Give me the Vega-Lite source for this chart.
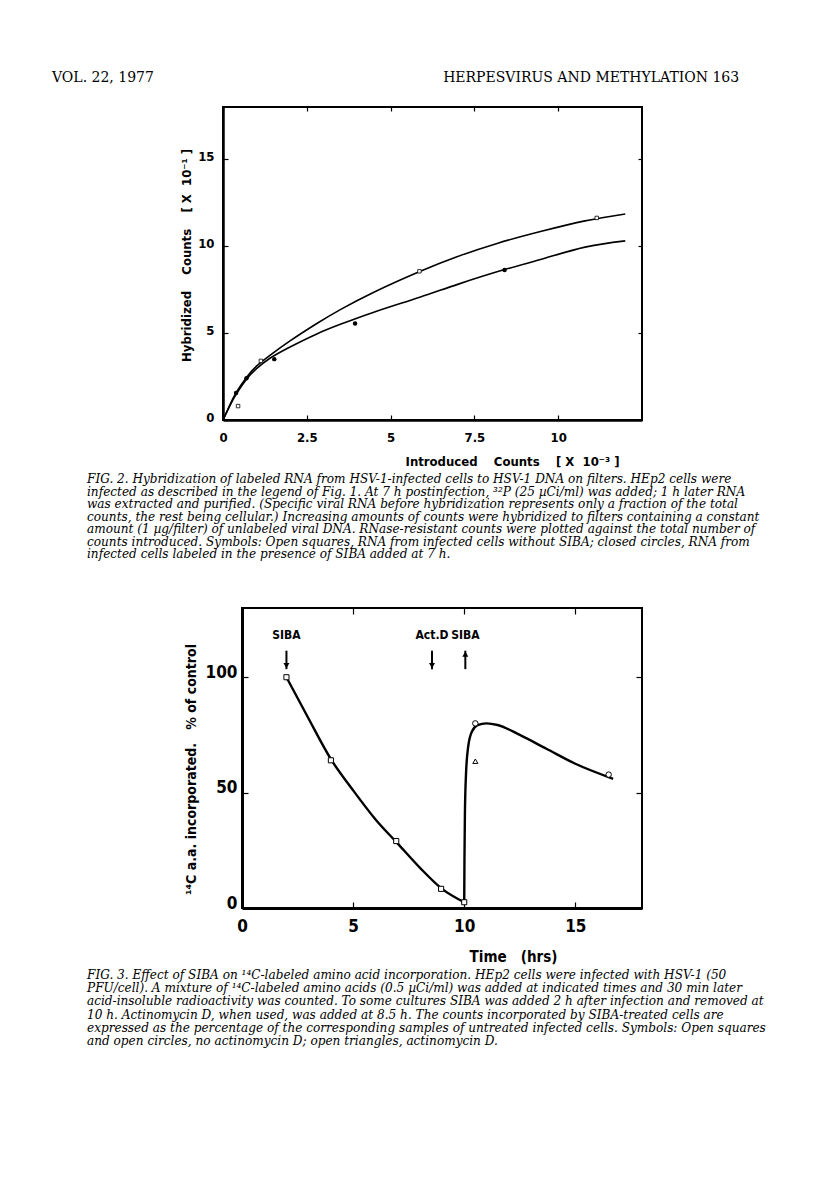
{
  "$schema": "https://vega.github.io/schema/vega-lite/v6.json",
  "background": "white",
  "padding": {"left": 52, "top": 71, "right": 5, "bottom": 5},
  "spacing": 44,
  "title": {
    "text": "VOL. 22, 1977\u00a0\u00a0\u00a0\u00a0\u00a0\u00a0\u00a0\u00a0\u00a0\u00a0\u00a0\u00a0\u00a0\u00a0\u00a0\u00a0\u00a0\u00a0\u00a0\u00a0\u00a0\u00a0\u00a0\u00a0\u00a0\u00a0\u00a0\u00a0\u00a0\u00a0\u00a0\u00a0\u00a0\u00a0\u00a0\u00a0\u00a0\u00a0\u00a0\u00a0\u00a0\u00a0\u00a0\u00a0\u00a0\u00a0\u00a0\u00a0\u00a0\u00a0\u00a0\u00a0\u00a0\u00a0\u00a0\u00a0\u00a0\u00a0\u00a0\u00a0\u00a0\u00a0\u00a0\u00a0\u00a0HERPESVIRUS AND METHYLATION\u00a0163",
    "anchor": "start",
    "dx": -34,
    "offset": 20,
    "font": "DejaVu Serif",
    "fontSize": 14,
    "fontWeight": "normal",
    "color": "black"
  },
  "datasets": {
    "fig2curves": [
      {"series": "open squares", "x": 0, "y": 0},
      {"series": "open squares", "x": 0.2, "y": 0.85},
      {"series": "open squares", "x": 0.4, "y": 1.6},
      {"series": "open squares", "x": 0.7, "y": 2.45},
      {"series": "open squares", "x": 1.0, "y": 3.1},
      {"series": "open squares", "x": 1.4, "y": 3.72},
      {"series": "open squares", "x": 2.0, "y": 4.55},
      {"series": "open squares", "x": 2.8, "y": 5.55},
      {"series": "open squares", "x": 3.5, "y": 6.35},
      {"series": "open squares", "x": 4.5, "y": 7.35},
      {"series": "open squares", "x": 5.87, "y": 8.54},
      {"series": "open squares", "x": 7.0, "y": 9.4},
      {"series": "open squares", "x": 8.2, "y": 10.17},
      {"series": "open squares", "x": 9.5, "y": 10.85},
      {"series": "open squares", "x": 10.8, "y": 11.45},
      {"series": "open squares", "x": 12.0, "y": 11.85},
      {"series": "closed circles", "x": 0, "y": 0},
      {"series": "closed circles", "x": 0.2, "y": 0.8},
      {"series": "closed circles", "x": 0.4, "y": 1.5},
      {"series": "closed circles", "x": 0.7, "y": 2.35},
      {"series": "closed circles", "x": 1.0, "y": 2.95},
      {"series": "closed circles", "x": 1.4, "y": 3.55},
      {"series": "closed circles", "x": 2.0, "y": 4.2},
      {"series": "closed circles", "x": 2.8, "y": 4.95},
      {"series": "closed circles", "x": 3.5, "y": 5.5},
      {"series": "closed circles", "x": 4.5, "y": 6.2},
      {"series": "closed circles", "x": 5.87, "y": 7.06},
      {"series": "closed circles", "x": 7.0, "y": 7.8},
      {"series": "closed circles", "x": 8.4, "y": 8.65},
      {"series": "closed circles", "x": 9.6, "y": 9.3},
      {"series": "closed circles", "x": 10.8, "y": 9.94},
      {"series": "closed circles", "x": 12.0, "y": 10.3}
    ],
    "fig2points": [
      {"symbol": "open square", "x": 0.45, "y": 0.8},
      {"symbol": "open square", "x": 1.13, "y": 3.4},
      {"symbol": "open square", "x": 5.86, "y": 8.55},
      {"symbol": "open square", "x": 11.15, "y": 11.62},
      {"symbol": "closed circle", "x": 0.39, "y": 1.55},
      {"symbol": "closed circle", "x": 0.7, "y": 2.4},
      {"symbol": "closed circle", "x": 1.53, "y": 3.5},
      {"symbol": "closed circle", "x": 3.94, "y": 5.55},
      {"symbol": "closed circle", "x": 8.4, "y": 8.62}
    ],
    "fig3curve": [
      {"segment": "with SIBA", "time": 2, "pct": 100},
      {"segment": "with SIBA", "time": 3, "pct": 82},
      {"segment": "with SIBA", "time": 4, "pct": 64.5},
      {"segment": "with SIBA", "time": 5, "pct": 51},
      {"segment": "with SIBA", "time": 6, "pct": 38.5},
      {"segment": "with SIBA", "time": 7, "pct": 28},
      {"segment": "with SIBA", "time": 8, "pct": 17.5},
      {"segment": "with SIBA", "time": 9, "pct": 8.3},
      {"segment": "with SIBA", "time": 10, "pct": 2.5},
      {"segment": "after removal", "time": 10, "pct": 2.5},
      {"segment": "after removal", "time": 10.01, "pct": 20},
      {"segment": "after removal", "time": 10.03, "pct": 40},
      {"segment": "after removal", "time": 10.08, "pct": 58},
      {"segment": "after removal", "time": 10.18, "pct": 70},
      {"segment": "after removal", "time": 10.35, "pct": 76.5},
      {"segment": "after removal", "time": 10.6, "pct": 79.2},
      {"segment": "after removal", "time": 11.0, "pct": 80},
      {"segment": "after removal", "time": 11.5, "pct": 79.3},
      {"segment": "after removal", "time": 12.5, "pct": 75},
      {"segment": "after removal", "time": 13.7, "pct": 69},
      {"segment": "after removal", "time": 15, "pct": 62.5},
      {"segment": "after removal", "time": 16.7, "pct": 56}
    ],
    "fig3points": [
      {"symbol": "square", "time": 2, "pct": 100},
      {"symbol": "square", "time": 4, "pct": 64},
      {"symbol": "square", "time": 6.94, "pct": 29},
      {"symbol": "square", "time": 8.96, "pct": 8.3},
      {"symbol": "square", "time": 10, "pct": 2.5},
      {"symbol": "circle", "time": 10.5, "pct": 80},
      {"symbol": "circle", "time": 16.5, "pct": 57.8},
      {"symbol": "triangle", "time": 10.5, "pct": 63.6}
    ],
    "fig3notes": [
      {"time": 2, "label": "SIBA", "dir": "down"},
      {"time": 8.55, "label": "Act.D", "dir": "down"},
      {"time": 10.05, "label": "SIBA", "dir": "up"}
    ]
  },
  "vconcat": [
    {
      "width": 419,
      "height": 313,
      "title": {
        "text": [
          "FIG. 2. Hybridization of labeled RNA from HSV-1-infected cells to HSV-1 DNA on filters. HEp2 cells were",
          "infected as described in the legend of Fig. 1. At 7 h postinfection, \u00b3\u00b2P (25 \u00b5Ci/ml) was added; 1 h later RNA",
          "was extracted and purified. (Specific viral RNA before hybridization represents only a fraction of the total",
          "counts, the rest being cellular.) Increasing amounts of counts were hybridized to filters containing a constant",
          "amount (1 \u00b5g/filter) of unlabeled viral DNA. RNase-resistant counts were plotted against the total number of",
          "counts introduced. Symbols: Open squares, RNA from infected cells without SIBA; closed circles, RNA from",
          "infected cells labeled in the presence of SIBA added at 7 h."
        ],
        "orient": "bottom",
        "anchor": "start",
        "frame": "group",
        "dx": -136,
        "offset": 5,
        "font": "DejaVu Serif",
        "fontStyle": "italic",
        "fontWeight": "normal",
        "fontSize": 12.1,
        "lineHeight": 12.5,
        "color": "black"
      },
      "resolve": {"axis": {"x": "independent", "y": "independent"}},
      "layer": [
        {
          "data": {"name": "fig2curves"},
          "mark": {"type": "line", "interpolate": "natural", "color": "black", "strokeWidth": 1.6},
          "encoding": {
            "x": {
              "field": "x", "type": "quantitative",
              "scale": {"domain": [0, 12.5], "nice": false, "zero": false},
              "axis": {
                "values": [0, 2.5, 5, 7.5, 10], "format": "~g", "labelFlush": false,
                "tickSize": -5, "labelPadding": 16, "labelFontSize": 13,
                "domainWidth": 2.5, "domainColor": "black",
                "title": "Introduced\u00a0\u00a0\u00a0\u00a0Counts\u00a0\u00a0\u00a0\u00a0[\u00a0X\u00a0\u00a010\u207b\u00b3\u00a0]",
                "titleFontSize": 13, "titlePadding": 11, "titleX": 289
              }
            },
            "y": {
              "field": "y", "type": "quantitative",
              "scale": {"domain": [0, 18], "nice": false, "zero": false},
              "axis": {
                "values": [0, 5, 10, 15], "labelFlush": false,
                "tickSize": -5, "labelPadding": 14, "labelFontSize": 13, "labelOffset": -3,
                "domainWidth": 2.5, "domainColor": "black",
                "title": "Hybridized\u00a0\u00a0\u00a0\u00a0Counts\u00a0\u00a0\u00a0\u00a0[\u00a0X\u00a0\u00a010\u207b\u00b9\u00a0]",
                "titleFontSize": 13, "titleBaseline": "middle", "titleX": -37, "titleY": 148
              }
            },
            "detail": {"field": "series", "type": "nominal"}
          }
        },
        {
          "data": {"name": "fig2points"},
          "transform": [{"filter": "datum.symbol === 'open square'"}],
          "mark": {"type": "point", "shape": "square", "filled": true, "fill": "white", "stroke": "black", "strokeWidth": 0.8, "size": 12, "opacity": 1},
          "encoding": {
            "x": {
              "field": "x", "type": "quantitative",
              "scale": {"domain": [0, 12.5], "nice": false, "zero": false},
              "axis": {"orient": "top", "values": [2.5, 5, 7.5, 10], "labels": false, "title": null, "domain": false, "tickSize": -4}
            },
            "y": {
              "field": "y", "type": "quantitative",
              "scale": {"domain": [0, 18], "nice": false, "zero": false},
              "axis": {"orient": "right", "values": [5, 10, 15], "labels": false, "title": null, "domain": false, "tickSize": -4}
            }
          }
        },
        {
          "data": {"name": "fig2points"},
          "transform": [{"filter": "datum.symbol === 'closed circle'"}],
          "mark": {"type": "point", "shape": "circle", "filled": true, "color": "black", "size": 20, "opacity": 1},
          "encoding": {
            "x": {"field": "x", "type": "quantitative", "scale": {"domain": [0, 12.5], "nice": false, "zero": false}, "axis": null},
            "y": {"field": "y", "type": "quantitative", "scale": {"domain": [0, 18], "nice": false, "zero": false}, "axis": null}
          }
        }
      ]
    },
    {
      "hconcat": [
        {
          "width": 1,
          "height": 1,
          "view": {"stroke": null},
          "data": {"values": []},
          "mark": "point"
        },
        {
          "width": 400,
          "height": 300,
          "title": {
            "text": [
              "FIG. 3. Effect of SIBA on \u00b9\u2074C-labeled amino acid incorporation. HEp2 cells were infected with HSV-1 (50",
              "PFU/cell). A mixture of \u00b9\u2074C-labeled amino acids (0.5 \u00b5Ci/ml) was added at indicated times and 30 min later",
              "acid-insoluble radioactivity was counted. To some cultures SIBA was added 2 h after infection and removed at",
              "10 h. Actinomycin D, when used, was added at 8.5 h. The counts incorporated by SIBA-treated cells are",
              "expressed as the percentage of the corresponding samples of untreated infected cells. Symbols: Open squares",
              "and open circles, no actinomycin D; open triangles, actinomycin D."
            ],
            "orient": "bottom",
            "anchor": "start",
            "frame": "group",
            "dx": -155,
            "offset": 5,
            "font": "DejaVu Serif",
            "fontStyle": "italic",
            "fontWeight": "normal",
            "fontSize": 12.1,
            "lineHeight": 13.2,
            "color": "black"
          },
          "resolve": {"axis": {"x": "independent", "y": "independent"}},
          "layer": [
            {
              "data": {"name": "fig3curve"},
              "mark": {"type": "line", "interpolate": "monotone", "color": "black", "strokeWidth": 2.4},
              "encoding": {
                "x": {
                  "field": "time", "type": "quantitative",
                  "scale": {"domain": [0, 18], "nice": false, "zero": false},
                  "axis": {
                    "values": [0, 5, 10, 15], "labelFlush": false,
                    "tickSize": -6, "labelPadding": 16, "labelFontSize": 17,
                    "domainWidth": 3, "domainColor": "black",
                    "title": "Time\u00a0\u00a0\u00a0(hrs)",
                    "titleFontSize": 15, "titlePadding": 15, "titleX": 271
                  }
                },
                "y": {
                  "field": "pct", "type": "quantitative",
                  "scale": {"domain": [0, 130], "nice": false, "zero": false},
                  "axis": {
                    "values": [0, 50, 100], "labelFlush": false,
                    "tickSize": -6, "labelPadding": 11, "labelFontSize": 17, "labelBaseline": "alphabetic",
                    "domainWidth": 3, "domainColor": "black",
                    "title": "\u00b9\u2074C\u00a0a.a.\u00a0incorporated.\u00a0\u00a0\u00a0%\u00a0of\u00a0control",
                    "titleFontSize": 14, "titleBaseline": "middle", "titleX": -51, "titleY": 161
                  }
                },
                "detail": {"field": "segment", "type": "nominal"}
              }
            },
            {
              "data": {"name": "fig3points"},
              "transform": [{"filter": "datum.symbol === 'square'"}],
              "mark": {"type": "point", "shape": "square", "filled": true, "fill": "white", "stroke": "black", "strokeWidth": 1, "size": 26, "opacity": 1},
              "encoding": {
                "x": {
                  "field": "time", "type": "quantitative",
                  "scale": {"domain": [0, 18], "nice": false, "zero": false},
                  "axis": {"orient": "top", "values": [5, 10, 15], "labels": false, "title": null, "domain": false, "tickSize": -6}
                },
                "y": {
                  "field": "pct", "type": "quantitative",
                  "scale": {"domain": [0, 130], "nice": false, "zero": false},
                  "axis": {"orient": "right", "values": [50, 100], "labels": false, "title": null, "domain": false, "tickSize": -6}
                }
              }
            },
            {
              "data": {"name": "fig3points"},
              "transform": [{"filter": "datum.symbol === 'circle'"}],
              "mark": {"type": "point", "shape": "circle", "filled": true, "fill": "white", "stroke": "black", "strokeWidth": 1, "size": 30, "opacity": 1},
              "encoding": {
                "x": {"field": "time", "type": "quantitative", "scale": {"domain": [0, 18], "nice": false, "zero": false}, "axis": null},
                "y": {"field": "pct", "type": "quantitative", "scale": {"domain": [0, 130], "nice": false, "zero": false}, "axis": null}
              }
            },
            {
              "data": {"name": "fig3points"},
              "transform": [{"filter": "datum.symbol === 'triangle'"}],
              "mark": {"type": "point", "shape": "triangle-up", "filled": true, "fill": "white", "stroke": "black", "strokeWidth": 1, "size": 26, "opacity": 1},
              "encoding": {
                "x": {"field": "time", "type": "quantitative", "scale": {"domain": [0, 18], "nice": false, "zero": false}, "axis": null},
                "y": {"field": "pct", "type": "quantitative", "scale": {"domain": [0, 130], "nice": false, "zero": false}, "axis": null}
              }
            },
            {
              "data": {"name": "fig3notes"},
              "mark": {"type": "text", "font": "DejaVu Sans Condensed, Liberation Sans, sans-serif", "fontWeight": "bold", "fontSize": 12, "color": "black", "baseline": "middle"},
              "encoding": {
                "x": {"field": "time", "type": "quantitative", "scale": {"domain": [0, 18], "nice": false, "zero": false}, "axis": null},
                "y": {"datum": 118.5, "type": "quantitative", "scale": {"domain": [0, 130], "nice": false, "zero": false}, "axis": null},
                "text": {"field": "label", "type": "nominal"}
              }
            },
            {
              "data": {"name": "fig3notes"},
              "mark": {"type": "rule", "color": "black", "strokeWidth": 2},
              "encoding": {
                "x": {"field": "time", "type": "quantitative", "scale": {"domain": [0, 18], "nice": false, "zero": false}, "axis": null},
                "y": {"datum": 103.5, "type": "quantitative", "scale": {"domain": [0, 130], "nice": false, "zero": false}, "axis": null},
                "y2": {"datum": 111.5}
              }
            },
            {
              "data": {"name": "fig3notes"},
              "transform": [{"filter": "datum.dir === 'down'"}],
              "mark": {"type": "point", "shape": "triangle-down", "filled": true, "color": "black", "size": 36, "opacity": 1},
              "encoding": {
                "x": {"field": "time", "type": "quantitative", "scale": {"domain": [0, 18], "nice": false, "zero": false}, "axis": null},
                "y": {"datum": 105, "type": "quantitative", "scale": {"domain": [0, 130], "nice": false, "zero": false}, "axis": null}
              }
            },
            {
              "data": {"name": "fig3notes"},
              "transform": [{"filter": "datum.dir === 'up'"}],
              "mark": {"type": "point", "shape": "triangle-up", "filled": true, "color": "black", "size": 36, "opacity": 1},
              "encoding": {
                "x": {"field": "time", "type": "quantitative", "scale": {"domain": [0, 18], "nice": false, "zero": false}, "axis": null},
                "y": {"datum": 110, "type": "quantitative", "scale": {"domain": [0, 130], "nice": false, "zero": false}, "axis": null}
              }
            }
          ]
        }
      ],
      "spacing": 18,
      "bounds": "flush"
    }
  ],
  "config": {
    "view": {"stroke": "black", "strokeWidth": 2},
    "axis": {
      "grid": false,
      "domainColor": "black",
      "tickColor": "black",
      "tickWidth": 1.2,
      "labelColor": "black",
      "titleColor": "black",
      "labelFont": "DejaVu Sans Condensed, Liberation Sans, sans-serif",
      "labelFontWeight": "bold",
      "titleFont": "DejaVu Sans Condensed, Liberation Sans, sans-serif",
      "titleFontWeight": "bold"
    },
    "title": {"color": "black"}
  }
}
